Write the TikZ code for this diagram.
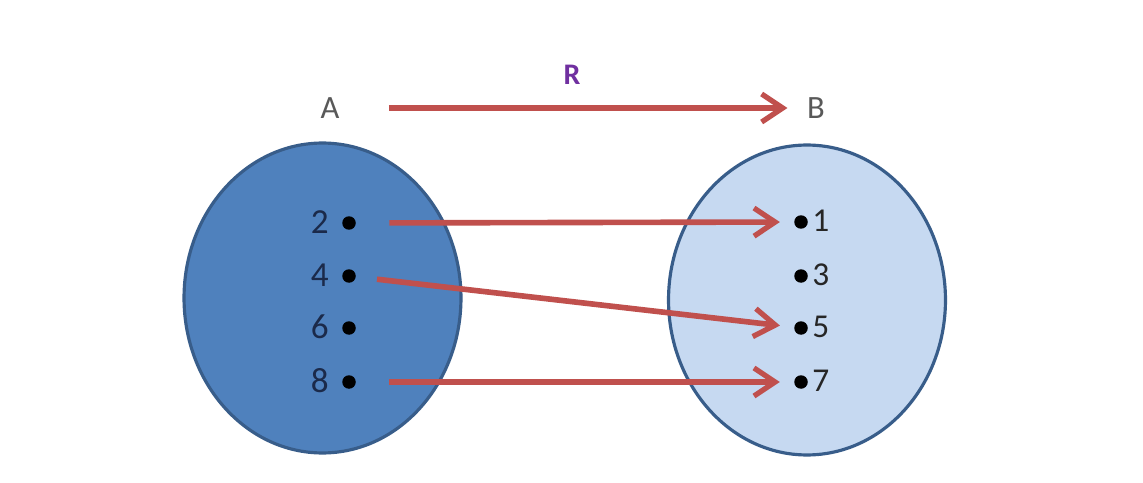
\documentclass[tikz,border=0pt]{standalone}
\usepackage{fontspec}
\setmainfont{Carlito}
\usetikzlibrary{arrows.meta,shapes.geometric}
\definecolor{setAfill}{HTML}{4F81BD}
\definecolor{setBfill}{HTML}{C6D9F1}
\definecolor{setedge}{HTML}{385D8A}
\definecolor{arrred}{HTML}{C0504D}
\definecolor{relcol}{HTML}{7030A0}
\definecolor{navy}{HTML}{1B2A4A}
\definecolor{lettergray}{HTML}{595959}
\tikzset{
  setshape/.style={ellipse, draw=setedge, line width=1.8pt, inner sep=0pt,
    minimum width=5.54cm, minimum height=6.2cm},
  elemdot/.style={circle, fill=black, inner sep=0pt, minimum size=0.27cm},
  leftlab/.style={anchor=east, inner sep=0pt, text=navy, font=\fontsize{20}{22}\selectfont},
  rightlab/.style={anchor=west, inner sep=0pt, text=black!85, font=\fontsize{19}{22}\selectfont},
  setname/.style={inner sep=0pt, text=lettergray, font=\fontsize{18.5}{20}\selectfont},
  maparrow/.style={draw=arrred, line width=3.2pt,
    -{Straight Barb[length=12pt,width=16pt,line width=3pt]}}
}
\begin{document}
\begin{tikzpicture}[x=0.02cm,y=-0.02cm]
\useasboundingbox (0,0) rectangle (1143,483);
\fill[white] (0,0) rectangle (1143,483);
% sets
\node[setshape, fill=setAfill] (SA) at (322.5,298) {};
\node[setshape, fill=setBfill] (SB) at (807,300) {};
% set names and relation
\node[setname] (A) at (330,108) {A};
\node[setname] (B) at (816,108) {B};
\node[inner sep=0pt, text=relcol, font=\fontsize{17}{18}\selectfont\bfseries] (R) at (572,75) {R};
\draw[maparrow, shorten <=28pt, shorten >=11pt] (A) -- (B);
% elements of A
\node[elemdot] (a2) at (349,223) {};
\node[elemdot] (a4) at (349,276) {};
\node[elemdot] (a6) at (349,328) {};
\node[elemdot] (a8) at (349,382) {};
\node[leftlab] (l2) at (329,222) {2};
\node[leftlab] (l4) at (329,275) {4};
\node[leftlab] (l6) at (329,327) {6};
\node[leftlab] (l8) at (329,381) {8};
% elements of B
\node[elemdot] (b1) at (801,222) {};
\node[elemdot] (b3) at (801,276) {};
\node[elemdot] (b5) at (801,328) {};
\node[elemdot] (b7) at (801,382) {};
\node[rightlab] (r1) at (812,221) {1};
\node[rightlab] (r3) at (812,275) {3};
\node[rightlab] (r5) at (812,327) {5};
\node[rightlab] (r7) at (812,381) {7};
% mappings
\draw[maparrow, shorten <=19pt, shorten >=8pt] (a2) -- (b1);
\draw[maparrow, shorten <=12pt, shorten >=8pt] (a4) -- (b5);
\draw[maparrow, shorten <=19pt, shorten >=8pt] (a8) -- (b7);
\end{tikzpicture}
\end{document}
